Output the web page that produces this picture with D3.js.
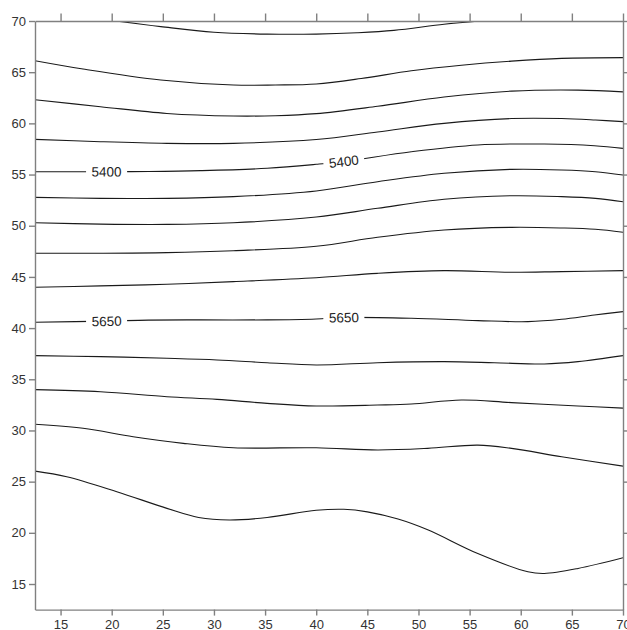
<!DOCTYPE html>
<html>
<head>
<meta charset="utf-8">
<script src="https://cdn.jsdelivr.net/npm/d3@7"></script>
<style>
  body { margin: 0; background: #fff; }
  #chart { width: 627px; height: 630px; }
  .tick text { font-family: "Liberation Sans", Arial, sans-serif; font-size: 13px; fill: #333; }
  .axis path, .axis line { stroke: #808080; stroke-width: 1.4; }
  .contour { fill: none; stroke: #1a1a1a; stroke-width: 1.1; }
  .clabel { font-family: "Liberation Sans", Arial, sans-serif; font-size: 13.5px; fill: #222; }
</style>
</head>
<body>
<div id="chart"></div>
<script>
// Axis ticks
const xTicks = [15, 20, 25, 30, 35, 40, 45, 50, 55, 60, 65, 70];
const yTicks = [15, 20, 25, 30, 35, 40, 45, 50, 55, 60, 65, 70];

// Contour lines, [x, y]
const c5200 = [[20.4,70],[24.8,69.45],[30,68.9],[35.2,68.72],[40,68.72],[44,68.85],[47.6,69.08],[52.5,69.68],[56,70]];
const c5250 = [[12.5,66.12],[17.2,65.31],[24.8,64.24],[31.9,63.75],[36,63.75],[40,63.85],[44.4,64.38],[49.3,65.14],[54.2,65.68],[59.1,66.08],[64,66.35],[70,66.42]];
const c5300 = [[12.5,62.31],[18.9,61.63],[25.4,60.97],[31.9,60.72],[36,60.75],[40,60.95],[46,61.67],[52.5,62.57],[59.1,63.15],[65.6,63.25],[70,63.08]];
const c5350 = [[12.5,58.44],[18.9,58.21],[25.4,58.05],[31.9,58.05],[40,58.42],[46,59.16],[52.5,60.0],[59.1,60.47],[64,60.47],[67.3,60.33],[70,60.17]];
const c5400 = [[12.5,55.28],[19.5,55.28],[23.6,55.3],[28.7,55.38],[35.2,55.61],[40,56.0],[42.7,56.28],[49.3,57.23],[55.8,57.89],[62.3,57.98],[67.2,57.82],[70,57.56]];
const c5450 = [[12.5,52.77],[18.9,52.67],[25.4,52.67],[31.9,52.84],[40,53.4],[46,54.3],[52.5,55.12],[59.1,55.51],[64,55.45],[67.3,55.28],[70,54.95]];
const c5500 = [[12.5,50.29],[18.9,50.16],[25.4,50.13],[31.9,50.29],[40,50.85],[46,51.7],[52.5,52.58],[59.1,52.93],[64,52.84],[67.3,52.67],[70,52.34]];
const c5550 = [[12.5,47.31],[18.9,47.31],[25.4,47.37],[31.9,47.56],[40,48.0],[46,48.87],[52.5,49.58],[59.1,49.84],[64,49.78],[67.3,49.65],[70,49.36]];
const c5600 = [[12.5,43.99],[18.9,44.12],[25.4,44.28],[31.9,44.54],[40,44.92],[46,45.35],[52.5,45.61],[59.1,45.45],[64,45.52],[70,45.61]];
const c5650 = [[12.5,40.57],[19.5,40.68],[23.6,40.78],[28.7,40.8],[35.2,40.8],[40,40.89],[42.7,41.04],[49.3,40.96],[55.8,40.73],[60.7,40.63],[64,40.86],[67.2,41.28],[70,41.61]];
const c5700 = [[12.5,37.31],[18.9,37.21],[25.4,37.05],[30.3,36.89],[35.2,36.62],[40,36.4],[46,36.62],[52.5,36.72],[57.4,36.62],[62.3,36.49],[65.6,36.72],[70,37.31]];
const c5750 = [[12.5,33.99],[18.9,33.78],[25.4,33.3],[30.3,33.04],[35.2,32.65],[40,32.39],[46,32.48],[49.3,32.58],[54.2,32.98],[59.1,32.72],[65.6,32.39],[70,32.18]];
const c5800 = [[12.5,30.6],[17.2,30.21],[22.1,29.39],[27,28.74],[31.9,28.31],[40,28.31],[46,28.09],[50.9,28.25],[55.8,28.57],[59.1,28.25],[64,27.43],[70,26.52]];
const c5850 = [[12.5,26.03],[15.6,25.48],[20.5,24.02],[25.4,22.39],[28.5,21.5],[31.5,21.25],[35.2,21.5],[40,22.2],[42.7,22.3],[45,22.05],[48,21.35],[50.9,20.3],[55.8,17.98],[60.7,16.19],[62.3,16.03],[65.6,16.52],[70,17.56]];

const levels = [5200, 5250, 5300, 5350, 5400, 5450, 5500, 5550, 5600, 5650, 5700, 5750, 5800, 5850];
const lines = [c5200, c5250, c5300, c5350, c5400, c5450, c5500, c5550, c5600, c5650, c5700, c5750, c5800, c5850];

// Labelled contours and where the labels sit along x
const labelLevels = [5400, 5400, 5650, 5650];
const labelX = [19.5, 42.7, 19.5, 42.7];

const margin = { top: 21, right: 4, bottom: 20.4, left: 35 };
const W = 627, H = 630;
const width = W - margin.left - margin.right;
const height = H - margin.top - margin.bottom;

const svg = d3.select('#chart')
    .append('svg')
    .attr('width', W)
    .attr('height', H)
    .append('g')
    .attr('transform', `translate(${margin.left},${margin.top})`);

const x = d3.scaleLinear().domain([12.5, 70]).range([0, width]);
const y = d3.scaleLinear().domain([12.5, 70]).range([height, 0]);

svg.append('clipPath')
    .attr('id', 'plot-clip')
    .append('rect')
    .attr('width', width)
    .attr('height', height);

const line = d3.line()
    .x(d => x(d[0]))
    .y(d => y(d[1]))
    .curve(d3.curveCatmullRom.alpha(0.5));

svg.append('g')
    .attr('clip-path', 'url(#plot-clip)')
    .selectAll('.contour')
    .data(lines)
    .enter()
    .append('path')
    .attr('class', 'contour')
    .attr('d', line);

// linear lookup of a contour's y at a given x
function yAt(pts, xv) {
    for (let i = 1; i < pts.length; i++) {
        if (xv <= pts[i][0]) {
            const t = (xv - pts[i - 1][0]) / (pts[i][0] - pts[i - 1][0]);
            return pts[i - 1][1] + t * (pts[i][1] - pts[i - 1][1]);
        }
    }
    return pts[pts.length - 1][1];
}

// Contour labels with a white gap behind them
const labels = svg.append('g');
labelLevels.forEach((lv, i) => {
    const pts = lines[levels.indexOf(lv)];
    const xv = labelX[i];
    const px = x(xv), py = y(yAt(pts, xv));
    const dx = x(xv + 3) - x(xv - 3);
    const dy = y(yAt(pts, xv + 3)) - y(yAt(pts, xv - 3));
    const ang = Math.atan2(dy, dx) * 180 / Math.PI;

    const g = labels.append('g')
        .attr('transform', `translate(${px},${py}) rotate(${ang})`);
    const t = g.append('text')
        .attr('class', 'clabel')
        .attr('text-anchor', 'middle')
        .attr('dy', '0.36em')
        .text(lv);
    const tw = t.node().getComputedTextLength();
    g.insert('rect', 'text')
        .attr('x', -tw / 2 - 5.5)
        .attr('y', -8)
        .attr('width', tw + 11)
        .attr('height', 16)
        .attr('fill', '#fff');
});

// Axes
svg.append('g')
    .attr('class', 'axis')
    .attr('transform', `translate(0,${height})`)
    .call(d3.axisBottom(x).tickValues(xTicks).tickSize(6).tickSizeOuter(0).tickPadding(4));

svg.append('g')
    .attr('class', 'axis')
    .call(d3.axisLeft(y).tickValues(yTicks).tickSize(6).tickSizeOuter(0).tickPadding(3));

svg.append('g')
    .attr('class', 'axis')
    .call(d3.axisTop(x).tickValues(xTicks).tickSize(7.5).tickSizeOuter(0).tickFormat(''));

svg.append('g')
    .attr('class', 'axis')
    .attr('transform', `translate(${width},0)`)
    .call(d3.axisRight(y).tickValues(yTicks).tickSize(6).tickSizeOuter(0).tickFormat(''));
</script>
</body>
</html>
